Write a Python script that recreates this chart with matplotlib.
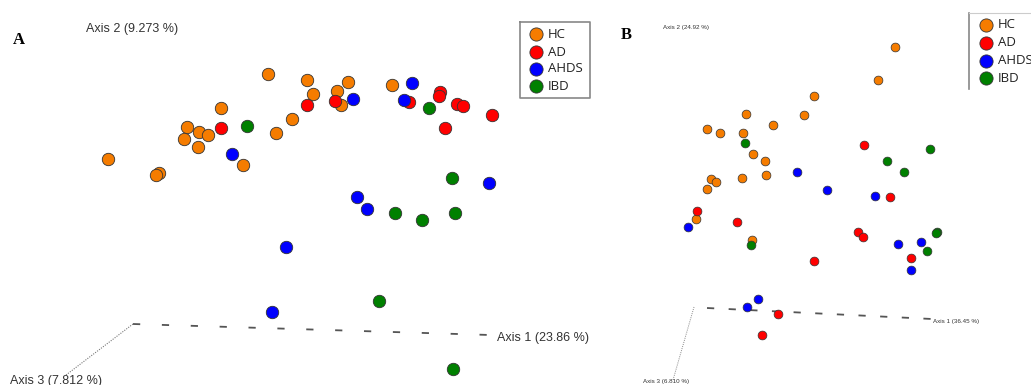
import matplotlib.pyplot as plt

# group colours
groups = ['HC', 'AD', 'AHDS', 'IBD']
colors = {'HC': '#F57C00', 'AD': '#FF0000', 'AHDS': '#0000FF', 'IBD': '#008000'}

# panel A: projected PCoA positions (screen units)
a_hc_x = [268, 307, 348, 392, 313, 337, 341, 221, 292, 187, 199, 208, 184, 276, 198, 108, 159, 156, 243]
a_hc_y = [74, 80, 82, 85, 94, 91, 105, 108, 119, 127, 132, 135, 139, 133, 147, 159, 173, 175, 165]
a_ad_x = [307, 335, 221, 409, 440, 439, 457, 463, 492, 445]
a_ad_y = [105, 101, 128, 102, 92, 96, 104, 106, 115, 128]
a_ahds_x = [412, 353, 404, 232, 489, 357, 367, 286, 272]
a_ahds_y = [83, 99, 100, 154, 183, 197, 209, 247, 312]
a_ibd_x = [247, 429, 452, 395, 422, 455, 379, 453]
a_ibd_y = [126, 108, 178, 213, 220, 213, 301, 369]

# panel B
b_hc_x = [895, 878, 814, 746, 804, 773, 707, 720, 743, 753, 765, 742, 766, 711, 716, 707, 696, 752]
b_hc_y = [47, 80, 96, 114, 115, 125, 129, 133, 133, 154, 161, 178, 175, 179, 182, 189, 219, 240]
b_ad_x = [864, 890, 697, 737, 858, 863, 911, 814, 778, 762]
b_ad_y = [145, 197, 211, 222, 232, 237, 258, 261, 314, 335]
b_ahds_x = [797, 827, 875, 688, 898, 921, 911, 758, 747]
b_ahds_y = [172, 190, 196, 227, 244, 242, 270, 299, 307]
b_ibd_x = [745, 887, 930, 904, 751, 937, 936, 927]
b_ibd_y = [143, 161, 149, 172, 245, 232, 233, 251]

panel_a = {'HC': (a_hc_x, a_hc_y), 'AD': (a_ad_x, a_ad_y),
           'AHDS': (a_ahds_x, a_ahds_y), 'IBD': (a_ibd_x, a_ibd_y)}
panel_b = {'HC': (b_hc_x, b_hc_y), 'AD': (b_ad_x, b_ad_y),
           'AHDS': (b_ahds_x, b_ahds_y), 'IBD': (b_ibd_x, b_ibd_y)}

fig = plt.figure(figsize=(10.31, 3.85), dpi=100)
ax = fig.add_axes([0, 0, 1, 1])
ax.set_xlim(0, 1031)
ax.set_ylim(385, 0)
ax.axis('off')

# axis lines of the 3d view
ax.plot([133, 490], [324, 335], color='#555555', lw=1.3, dashes=(4, 12))
ax.plot([133, 66], [324, 375], color='#777777', lw=0.8, dashes=(1, 1.2))
ax.plot([707, 932], [308, 319], color='#555555', lw=1.3, dashes=(4, 8))
ax.plot([694, 673], [307, 380], color='#888888', lw=0.7, dashes=(1, 1.2))

for g in groups:
    x, y = panel_a[g]
    ax.scatter(x, y, s=80, c=colors[g], edgecolors='#333333', linewidths=0.6, zorder=3)
    x, y = panel_b[g]
    ax.scatter(x, y, s=40, c=colors[g], edgecolors='#333333', linewidths=0.5, zorder=3)

txt = dict(family='Liberation Sans', color='#333333')
ax.text(13, 44, 'A', family='Liberation Serif', weight='bold', fontsize=12, va='baseline')
ax.text(86, 32, 'Axis 2 (9.273 %)', fontsize=9, va='baseline', **txt)
ax.text(497, 341, 'Axis 1 (23.86 %)', fontsize=9, va='baseline', **txt)
ax.text(10, 384, 'Axis 3 (7.812 %)', fontsize=9, va='baseline', **txt)

ax.text(621, 39, 'B', family='Liberation Serif', weight='bold', fontsize=12, va='baseline')
ax.text(663, 29, 'Axis 2 (24.92 %)', fontsize=4.5, va='baseline', **txt)
ax.text(933, 323, 'Axis 1 (36.45 %)', fontsize=4.5, va='baseline', **txt)
ax.text(643, 383, 'Axis 3 (6.810 %)', fontsize=4.5, va='baseline', **txt)

# legends drawn as boxes
ax.plot([520, 590, 590, 520, 520], [22, 22, 98, 98, 22], color='#888888', lw=1.2)
ax.plot([969, 969], [13, 89], color='#888888', lw=1.2)
ax.plot([969, 1031], [13, 13], color='#cccccc', lw=0.8)
leg_a_y = [34, 52, 69, 86]
leg_b_y = [25, 43, 61, 78]
for g, ya, yb in zip(groups, leg_a_y, leg_b_y):
    ax.scatter([536], [ya], s=90, c=colors[g], edgecolors='#333333', linewidths=0.6)
    ax.text(548, ya, g, fontsize=9.5, family='Open Sans', color='#222222', va='center')
    ax.scatter([986], [yb], s=90, c=colors[g], edgecolors='#333333', linewidths=0.6)
    ax.text(998, yb, g, fontsize=9.5, family='Open Sans', color='#222222', va='center')

fig.savefig('out.png', dpi=100)
